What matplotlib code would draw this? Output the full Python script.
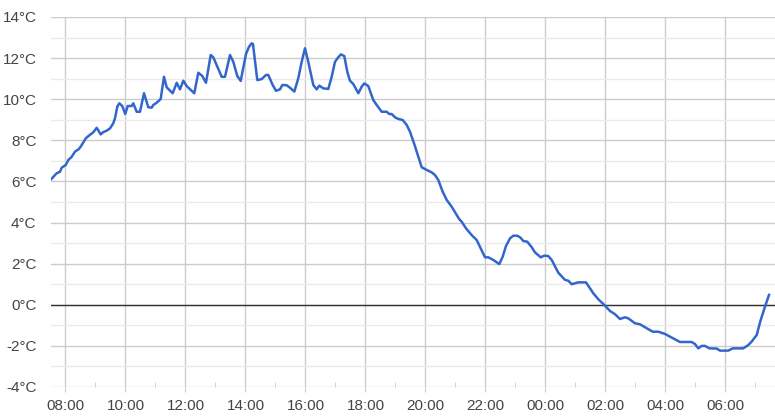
import matplotlib
matplotlib.use("Agg")
import matplotlib.pyplot as plt
from matplotlib.ticker import FuncFormatter, MultipleLocator

# time in hours since 00:00 of the first day (values > 24 are the next day)
hours = [7.517, 7.707, 7.817, 7.873, 8.007, 8.093, 8.207, 8.317, 8.45, 8.54,
         8.683, 8.817, 8.927, 9.04, 9.173, 9.26, 9.373, 9.483, 9.593, 9.65,
         9.727, 9.793, 9.893, 9.993, 10.073, 10.207, 10.26, 10.373, 10.483, 10.617,
         10.76, 10.873, 10.927, 11.04, 11.173, 11.283, 11.373, 11.573, 11.707, 11.817,
         11.927, 12.04, 12.293, 12.427, 12.56, 12.683, 12.84, 12.927, 13.207, 13.317,
         13.483, 13.593, 13.727, 13.84, 14.017, 14.117, 14.207, 14.25, 14.393, 14.54,
         14.683, 14.76, 14.907, 15.017, 15.15, 15.227, 15.373, 15.483, 15.627, 15.76,
         15.873, 15.983, 16.093, 16.26, 16.373, 16.46, 16.593, 16.76, 16.873, 16.983,
         17.093, 17.183, 17.293, 17.393, 17.483, 17.593, 17.76, 17.873, 17.96, 18.093,
         18.26, 18.373, 18.54, 18.707, 18.793, 18.873, 18.983, 19.093, 19.24, 19.373,
         19.483, 19.617, 19.76, 19.873, 20.04, 20.207, 20.317, 20.427, 20.573, 20.707,
         20.873, 21.017, 21.127, 21.207, 21.35, 21.54, 21.707, 21.84, 21.983, 22.093,
         22.26, 22.46, 22.573, 22.683, 22.817, 22.927, 23.06, 23.173, 23.26, 23.393,
         23.54, 23.65, 23.84, 23.96, 24.093, 24.207, 24.427, 24.65, 24.76, 24.873,
         25.093, 25.35, 25.593, 25.76, 25.96, 26.15, 26.317, 26.483, 26.65, 26.76,
         26.983, 27.15, 27.317, 27.573, 27.76, 27.983, 28.15, 28.483, 28.873, 28.983,
         29.093, 29.207, 29.317, 29.46, 29.707, 29.817, 30.093, 30.24, 30.593, 30.76,
         30.873, 31.04, 31.173, 31.317, 31.45]

temps_c = [6.10, 6.40, 6.47, 6.67, 6.80, 7.04, 7.20, 7.45, 7.58, 7.77,
           8.11, 8.27, 8.39, 8.61, 8.29, 8.40, 8.47, 8.58, 8.83, 9.07,
           9.64, 9.80, 9.67, 9.28, 9.67, 9.67, 9.80, 9.39, 9.39, 10.29,
           9.61, 9.59, 9.72, 9.83, 10.01, 11.09, 10.58, 10.29, 10.80, 10.48,
           10.90, 10.64, 10.29, 11.29, 11.13, 10.80, 12.15, 12.04, 11.09, 11.09,
           12.15, 11.82, 11.13, 10.89, 12.20, 12.55, 12.72, 12.68, 10.93, 10.98,
           11.18, 11.18, 10.69, 10.41, 10.48, 10.69, 10.68, 10.56, 10.37, 11.02,
           11.82, 12.48, 11.82, 10.69, 10.48, 10.66, 10.53, 10.50, 11.09, 11.82,
           12.04, 12.18, 12.10, 11.34, 10.90, 10.74, 10.29, 10.61, 10.77, 10.64,
           9.96, 9.72, 9.39, 9.39, 9.28, 9.28, 9.12, 9.04, 8.99, 8.75,
           8.42, 7.86, 7.20, 6.69, 6.56, 6.44, 6.31, 6.07, 5.50, 5.10,
           4.77, 4.42, 4.16, 4.04, 3.72, 3.39, 3.15, 2.75, 2.31, 2.31,
           2.18, 1.98, 2.34, 2.86, 3.23, 3.36, 3.36, 3.26, 3.10, 3.07,
           2.80, 2.55, 2.31, 2.39, 2.37, 2.18, 1.56, 1.21, 1.17, 1.00,
           1.09, 1.09, 0.56, 0.27, -0.01, -0.30, -0.46, -0.69, -0.61, -0.66,
           -0.90, -0.95, -1.09, -1.31, -1.31, -1.42, -1.55, -1.81, -1.81, -1.91,
           -2.12, -2.00, -2.00, -2.12, -2.13, -2.23, -2.23, -2.12, -2.12, -1.96,
           -1.79, -1.47, -0.74, -0.09, 0.48]

y_ticks = [-4, -2, 0, 2, 4, 6, 8, 10, 12, 14]

plt.rcParams['font.family'] = ['Liberation Sans', 'DejaVu Sans']

fig = plt.figure(figsize=(7.75, 4.18), dpi=100)
ax = fig.add_axes([51/775, 31/418, 724/775, 370/418])

ax.set_xlim(7.517, 31.65)
ax.set_ylim(-4, 14)

# grid
ax.set_yticks(y_ticks)
ax.yaxis.set_minor_locator(MultipleLocator(1))
ax.xaxis.set_major_locator(MultipleLocator(2))
ax.xaxis.set_minor_locator(MultipleLocator(1))
ax.grid(which='major', axis='both', color='#cccccc', linewidth=1.0, zorder=0)
ax.grid(which='minor', axis='y', color='#ebebeb', linewidth=1.0, zorder=0)
ax.set_axisbelow(True)
ax.axhline(0, color='#333333', linewidth=1.0, zorder=2)

ax.plot(hours, temps_c, color='#3366cc', linewidth=1.8, zorder=3,
        solid_joinstyle='round')

for s in ax.spines.values():
    s.set_visible(False)

ax.xaxis.set_major_formatter(FuncFormatter(lambda v, p: f"{int(round(v)) % 24:02d}:00"))
ax.yaxis.set_major_formatter(FuncFormatter(lambda v, p: f"{int(v)}°C"))

ax.tick_params(axis='x', which='major', direction='out', length=3.5, color='#cccccc',
               labelsize=11, labelcolor='#444444', pad=5)
ax.tick_params(axis='x', which='minor', direction='in', length=3.5, color='#cccccc')
ax.tick_params(axis='y', which='both', length=0, labelsize=11, labelcolor='#444444', pad=10.5)

fig.savefig("out.png", dpi=100, facecolor='white')
